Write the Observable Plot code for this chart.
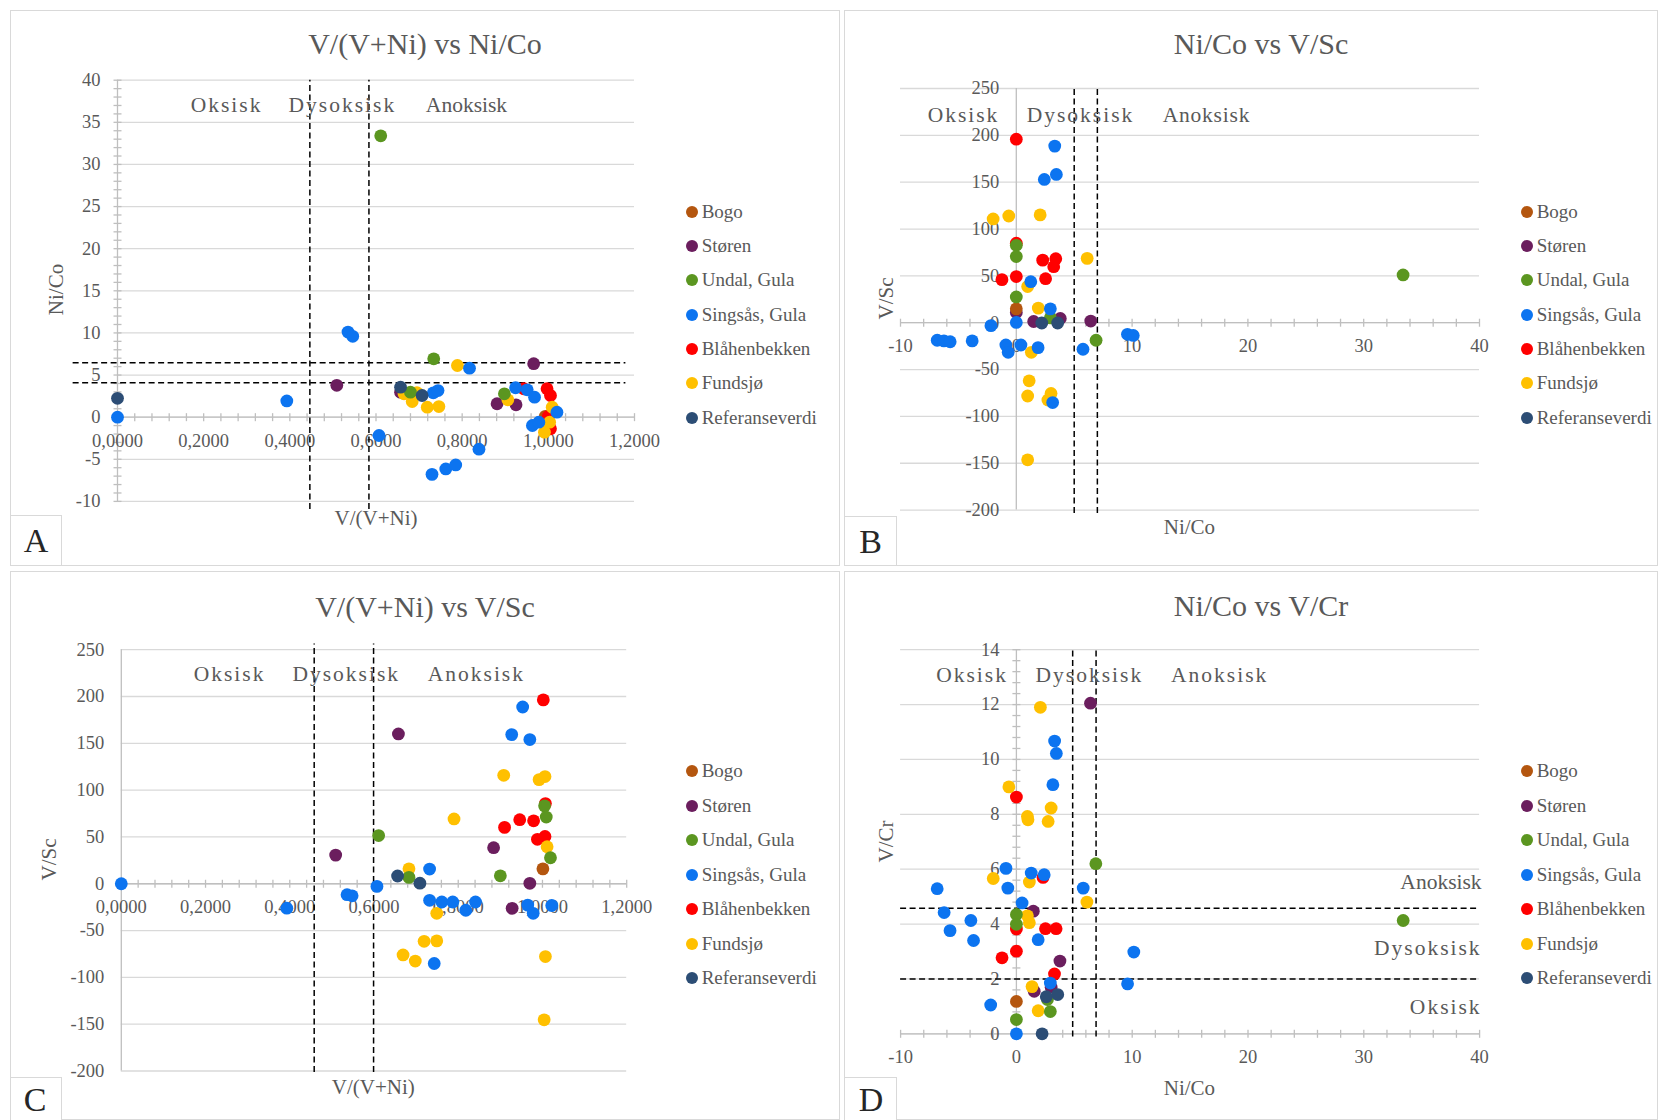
<!DOCTYPE html>
<html><head><meta charset="utf-8">
<script src="https://cdn.jsdelivr.net/npm/d3@7"></script>
<script src="https://cdn.jsdelivr.net/npm/@observablehq/plot@0.6"></script>
<style>
body{margin:0;background:#fff;}
#page{position:relative;width:1660px;height:1120px;background:#fff;font-family:"Liberation Serif","Times New Roman",serif;color:#595959;overflow:hidden}
.frame{position:absolute;border:1px solid #d9d9d9;box-sizing:border-box;background:#fff}
.abs{position:absolute;white-space:nowrap}
.lbox{position:absolute;border:1px solid #d9d9d9;box-sizing:border-box;background:#fff}
</style></head>
<body><div id="page"></div>
<script>
// ---------- series ----------
const seriesNames = ["Bogo","Støren","Undal, Gula","Singsås, Gula","Blåhenbekken","Fundsjø","Referanseverdi"];
const seriesColors = ["#B4560F","#6B1E5E","#5B9620","#0C74F0","#FF0000","#FFC000","#2C4D75"];
const drawOrder = [1,0,4,5,2,3,6];

// ---------- Panel A: V/(V+Ni) vs Ni/Co ----------
const aBogo = [[0.993,0.1]];
const aStoren = [[0.509,3.78],[0.657,2.96],[0.881,1.59],[0.925,1.47],[0.966,6.35]];
const aUndal = [[0.611,33.4],[0.680,2.96],[0.734,6.93],[0.898,2.77]];
const aSingsas = [[0,0],[0.393,1.93],[0.535,10.1],[0.546,9.6],[0.607,-2.18],[0.733,2.89],[0.744,3.16],[0.817,5.81],[0.839,-3.8],[0.73,-6.79],[0.762,-6.15],[0.785,-5.67],[0.924,3.49],[0.951,3.25],[0.968,2.37],[0.963,-0.99],[0.978,-0.6],[1.02,0.59]];
const aBlahen = [[0.943,3.37],[0.997,3.37],[1.005,2.57],[1.0,0.1],[1.005,-1.38]];
const aFundsjo = [[0.665,2.77],[0.695,2.9],[0.684,1.86],[0.719,1.18],[0.746,1.26],[0.789,6.13],[0.906,2.06],[1.009,1.18],[1.003,-0.6],[0.991,-1.78]];
const aRef = [[0,2.24],[0.657,3.56],[0.707,2.57]];

// ---------- Panel B: Ni/Co vs V/Sc ----------
const bBogo = [[0,14.8]];
const bStoren = [[0,11],[1.5,1.3],[3.8,4.6],[6.43,1.8]];
const bUndal = [[0,82.6],[0,70.6],[0,27.5],[2.94,5.2],[6.89,-18.7],[33.4,51]];
const bSingsas = [[3.32,188.5],[2.42,152.9],[3.46,158.3],[1.25,43.8],[2.94,14.8],[0,0.3],[-2.19,-3.1],[-6.83,-18.7],[-6.25,-19.4],[-5.71,-20.3],[-3.81,-19.4],[-0.9,-23.8],[-0.7,-31.6],[0.4,-23.8],[1.88,-26.6],[5.76,-28.3],[9.6,-12.4],[10.1,-13.6],[3.14,-85.2]];
const bBlahen = [[0,195.9],[0,84.9],[2.28,66.8],[3.41,68.3],[3.23,59.8],[-1.24,46],[0,49.3],[2.53,47]];
const bFundsjo = [[-2.0,110.8],[-0.65,113.9],[2.06,115.1],[6.12,68.7],[0.98,38.6],[1.9,15.6],[1.3,-31.6],[1.11,-62],[0.98,-78.2],[3.0,-75.5],[2.73,-82.5],[0.98,-146.3]];
const bRef = [[2.2,-0.3],[3.57,-0.3]];

// ---------- Panel C: V/(V+Ni) vs V/Sc ----------
const cBogo = [[1.001,15.9]];
const cStoren = [[0.509,30.6],[0.658,160],[0.884,38.5],[0.928,-26.2],[0.970,0.5]];
const cUndal = [[0.611,51.5],[0.683,6.8],[0.900,8.5],[1.005,83.2],[1.009,71.2],[1.019,27.8]];
const cSingsas = [[0,0],[0.393,-26.1],[0.536,-11.7],[0.548,-12.9],[0.607,-2.8],[0.732,15.7],[0.732,-17.7],[0.761,-19.5],[0.787,-19.5],[0.818,-28.3],[0.841,-19.5],[0.743,-85.2],[0.927,159.3],[0.953,188.8],[0.970,154],[0.965,-22.8],[0.978,-31.6],[1.022,-23.2]];
const cBlahen = [[1.002,196.4],[0.910,60.2],[0.946,68.4],[0.979,67.2],[1.007,85.6],[0.988,47.5],[1.006,50.5]];
const cFundsjo = [[0.683,15.9],[0.749,-31.6],[0.719,-61.5],[0.749,-61],[0.669,-76],[0.698,-82.6],[0.790,69.2],[0.908,115.8],[0.992,111.2],[1.006,114.5],[1.011,39.5],[1.007,-77.8],[1.004,-145.3]];
const cRef = [[0.656,8.3],[0.709,0.6]];

// ---------- Panel D: Ni/Co vs V/Cr ----------
const dBogo = [[0,1.18]];
const dStoren = [[6.4,12.05],[1.46,4.47],[3.76,2.65],[1.54,1.55],[3.0,1.7]];
const dUndal = [[6.86,6.2],[0,4.35],[0,3.99],[33.4,4.13],[2.68,1.25],[2.93,0.81],[0,0.52]];
const dSingsas = [[3.3,10.67],[3.45,10.22],[3.15,9.08],[-0.9,6.03],[1.28,5.86],[2.4,5.8],[-6.84,5.29],[-0.74,5.31],[5.77,5.31],[0.49,4.77],[-6.24,4.42],[-3.93,4.13],[-5.73,3.76],[-3.7,3.4],[1.88,3.43],[10.14,2.98],[9.6,1.82],[2.93,1.85],[-2.22,1.05],[0,0]];
const dBlahen = [[0,8.63],[2.3,5.7],[0,3.82],[2.51,3.83],[3.43,3.83],[0,3.01],[-1.24,2.77],[3.29,2.18]];
const dFundsjo = [[2.07,11.9],[-0.65,9.0],[3.0,8.23],[0.95,7.92],[1.0,7.8],[2.74,7.74],[-2.0,5.66],[1.12,5.53],[6.09,4.8],[0.95,4.3],[1.12,4.05],[1.35,1.72],[1.88,0.84]];
const dRef = [[3.57,1.43],[2.58,1.35],[2.22,0]];

// ---------- ticks ----------
const ticksVVNi = [0,0.2,0.4,0.6,0.8,1.0,1.2];
const ticksNiCoA = [-10,-5,0,5,10,15,20,25,30,35,40];
const ticksNiCo = [-10,0,10,20,30,40];
const ticksVSc = [-200,-150,-100,-50,0,50,100,150,200,250];
const ticksVCr = [0,2,4,6,8,10,12,14];

// ---------- zone labels ----------
const zoneNames = ["Oksisk","Dysoksisk","Anoksisk"];
const zonesA = [0.253,0.522,0.81];
const zonesB = [-4.56,5.54,16.42];
const zonesC = [0.257,0.534,0.843];
const zonesD = [-3.83,6.30,17.55];
const zonesDright = [0.97,3.13,5.52]; // Oksisk, Dysoksisk, Anoksisk

const fmtComma = d => d.toFixed(4).replace(".", ",");
const fmtInt = d => String(d);

const GRID = "#d9d9d9", AXIS = "#bfbfbf", TXT = "#595959", FONT = "Liberation Serif";
const vtick = {draw(ctx){ctx.moveTo(0,-4);ctx.lineTo(0,4);}};
const htick = {draw(ctx){ctx.moveTo(-4,0);ctx.lineTo(4,0);}};

const panels = [
  {name:"A", title:"V/(V+Ni) vs Ni/Co", titleC:[425,44.4], xt:"V/(V+Ni)", xtC:[376,518], yt:"Ni/Co", ytC:[56.4,289.8],
   frame:[10,10,830,556], lbox:[10,515,52,51], letterC:[36,541], legend:[691.7,211.7,34.3],
   plot:[117,634,79.7,500.9], xd:[0,1.2], yd:[-10,40], xticks:ticksVVNi, yticks:ticksNiCoA, xfmt:fmtComma,
   xminor:d3.range(0,1.2001,0.04), yminor:d3.range(-10,40.001,1),
   series:[aBogo,aStoren,aUndal,aSingsas,aBlahen,aFundsjo,aRef],
   vdash:{v:[0.4465,0.5836], y1:-10.96, y2:40}, hdash:{v:[4.08,6.45], x1:-0.103, x2:1.18},
   zones:zonesA, zoneY:37.0, spacing:[2,2,0]},
  {name:"B", title:"Ni/Co vs V/Sc", titleC:[1261,44.4], xt:"Ni/Co", xtC:[1189.4,527], yt:"V/Sc", ytC:[886,298.8],
   frame:[844,10,814,556], lbox:[844,516,53,50], letterC:[870.5,542], legend:[1526.7,211.7,34.3],
   plot:[900,1479,88,509.6], xd:[-10,40], yd:[-200,250], xticks:ticksNiCo, yticks:ticksVSc, xfmt:fmtInt,
   xminor:d3.range(-10,40.001,2), yminor:[],
   series:[bBogo,bStoren,bUndal,bSingsas,bBlahen,bFundsjo,bRef],
   vdash:{v:[5,7], y1:-203.6, y2:250}, hdash:null,
   zones:zonesB, zoneY:222.1, spacing:[2,2,0.8]},
  {name:"C", title:"V/(V+Ni) vs V/Sc", titleC:[425,606.6], xt:"V/(V+Ni)", xtC:[373.3,1087], yt:"V/Sc", ytC:[49.4,859.5],
   frame:[10,571,830,549], lbox:[10,1076.5,52,44], letterC:[35,1100], legend:[691.7,771.4,34.5],
   plot:[120.8,626.2,649.2,1070.5], xd:[0,1.2], yd:[-200,250], xticks:ticksVVNi, yticks:ticksVSc, xfmt:fmtComma,
   xminor:d3.range(0,1.2001,0.04), yminor:[],
   series:[cBogo,cStoren,cUndal,cSingsas,cBlahen,cFundsjo,cRef],
   vdash:{v:[0.458,0.599], y1:-201.5, y2:256}, hdash:null,
   zones:zonesC, zoneY:223.5, spacing:[2,2,2]},
  {name:"D", title:"Ni/Co vs V/Cr", titleC:[1261,605.9], xt:"Ni/Co", xtC:[1189.4,1088], yt:"V/Cr", ytC:[886,841],
   frame:[844,571,814,549], lbox:[844,1076.5,53,44], letterC:[871,1100], legend:[1526.7,771.4,34.5],
   plot:[900.1,1479.1,649.2,1033.3], xd:[-10,40], yd:[0,14], xticks:ticksNiCo, yticks:ticksVCr, xfmt:fmtInt,
   xminor:d3.range(-10,40.001,2), yminor:d3.range(0,14.001,0.4),
   series:[dBogo,dStoren,dUndal,dSingsas,dBlahen,dFundsjo,dRef],
   vdash:{v:[4.86,6.88], y1:-0.12, y2:14.03}, hdash:{v:[2.0,4.58], x1:-10, x2:40},
   zones:zonesD, zoneY:13.06, spacing:[2,2,2], rightZones:zonesDright, rightSpacing:[2,2,0]}
];

const page = document.getElementById("page");
function addDiv(cls, css, text){
  const d = document.createElement("div");
  d.className = cls; Object.assign(d.style, css);
  if (text != null) d.textContent = text;
  page.appendChild(d); return d;
}

for (const p of panels) {
  const [fx, fy, fw, fh] = p.frame;
  addDiv("frame", {left:fx+"px", top:fy+"px", width:fw+"px", height:fh+"px"});

  const [px0, px1, py0, py1] = p.plot;
  const marks = [];
  marks.push(Plot.ruleY(p.yticks, {y:d=>d, x1:p.xd[0], x2:p.xd[1], stroke:GRID, strokeWidth:1.3}));
  marks.push(Plot.ruleX([0], {x:d=>d, y1:p.yd[0], y2:p.yd[1], stroke:AXIS, strokeWidth:1.3}));
  marks.push(Plot.ruleY([0], {y:d=>d, x1:p.xd[0], x2:p.xd[1], stroke:AXIS, strokeWidth:1.3}));
  if (p.xminor.length) marks.push(Plot.dot(p.xminor, {x:d=>d, y:0, symbol:vtick, stroke:AXIS, fill:"none", strokeWidth:1.3}));
  if (p.yminor.length) marks.push(Plot.dot(p.yminor, {x:0, y:d=>d, symbol:htick, stroke:AXIS, fill:"none", strokeWidth:1.3}));
  marks.push(Plot.text(p.xticks, {x:d=>d, y:0, dy:23.5, text:p.xfmt, fill:TXT, fontSize:18.5, fontFamily:FONT}));
  marks.push(Plot.text(p.yticks, {x:0, y:d=>d, dx:-17, text:fmtInt, textAnchor:"end", fill:TXT, fontSize:18.5, fontFamily:FONT}));
  marks.push(Plot.ruleX(p.vdash.v, {x:d=>d, y1:p.vdash.y1, y2:p.vdash.y2, stroke:"#000", strokeWidth:1.5, strokeDasharray:"6,3.5"}));
  if (p.hdash) marks.push(Plot.ruleY(p.hdash.v, {y:d=>d, x1:p.hdash.x1, x2:p.hdash.x2, stroke:"#000", strokeWidth:1.5, strokeDasharray:"6,3.5"}));
  marks.push(Plot.text(zoneNames, {x:(d,i)=>p.zones[i], y:p.zoneY, text:d=>d, fill:TXT, fontSize:21.5, fontFamily:FONT}));
  if (p.rightZones) marks.push(Plot.text(zoneNames, {x:p.xd[1], y:(d,i)=>p.rightZones[i], text:d=>d, textAnchor:"end", dx:2, fill:TXT, fontSize:21.5, fontFamily:FONT}));
  for (const i of drawOrder) {
    marks.push(Plot.dot(p.series[i], {x:d=>d[0], y:d=>d[1], r:6.4, fill:seriesColors[i]}));
  }

  const svg = Plot.plot({
    width: fw, height: fh,
    marginLeft: px0 - fx, marginRight: fx + fw - px1,
    marginTop: py0 - fy, marginBottom: fy + fh - py1,
    x: {domain: p.xd, axis: null},
    y: {domain: p.yd, axis: null},
    style: {background:"transparent", overflow:"visible", maxWidth:"none", fontFamily:FONT},
    marks
  });
  const spacings = p.spacing.concat(p.rightSpacing || []);
  let k = 0;
  svg.querySelectorAll("text").forEach(t => {
    if (zoneNames.includes(t.textContent.trim())) {
      const s = spacings[k++] ?? 2;
      t.setAttribute("letter-spacing", String(s));
      t.style.letterSpacing = s + "px";
    }
  });
  const holder = addDiv("abs", {left:fx+"px", top:fy+"px", width:fw+"px", height:fh+"px"});
  holder.appendChild(svg);

  // title
  addDiv("abs", {left:(p.titleC[0]-300)+"px", top:(p.titleC[1]-15)+"px", width:"600px", textAlign:"center",
    fontSize:"30px", lineHeight:"30px", color:TXT}, p.title);
  // axis titles
  addDiv("abs", {left:(p.xtC[0]-100)+"px", top:(p.xtC[1]-10.5)+"px", width:"200px", textAlign:"center",
    fontSize:"21px", lineHeight:"21px", color:TXT}, p.xt);
  addDiv("abs", {left:(p.ytC[0]-100)+"px", top:(p.ytC[1]-10.5)+"px", width:"200px", textAlign:"center",
    fontSize:"21px", lineHeight:"21px", color:TXT, transform:"rotate(-90deg)"}, p.yt);
  // legend
  const [lx, ly, ls] = p.legend;
  seriesNames.forEach((nm, i) => {
    const row = addDiv("abs", {left:(lx-6)+"px", top:(ly + i*ls - 17)+"px", height:"34px", display:"flex", alignItems:"center",
      fontSize:"19px", color:TXT});
    const c = document.createElement("span");
    Object.assign(c.style, {display:"inline-block", width:"12px", height:"12px", borderRadius:"50%", background:seriesColors[i], marginRight:"4px"});
    const t = document.createElement("span"); t.textContent = nm;
    row.appendChild(c); row.appendChild(t);
  });
  // letter box
  const [bx, by, bw, bh] = p.lbox;
  addDiv("lbox", {left:bx+"px", top:by+"px", width:bw+"px", height:bh+"px"});
  addDiv("abs", {left:(p.letterC[0]-30)+"px", top:(p.letterC[1]-15)+"px", width:"60px", textAlign:"center",
    fontSize:"34px", lineHeight:"30px", color:"#262626"}, p.name);
}
</script></body></html>
